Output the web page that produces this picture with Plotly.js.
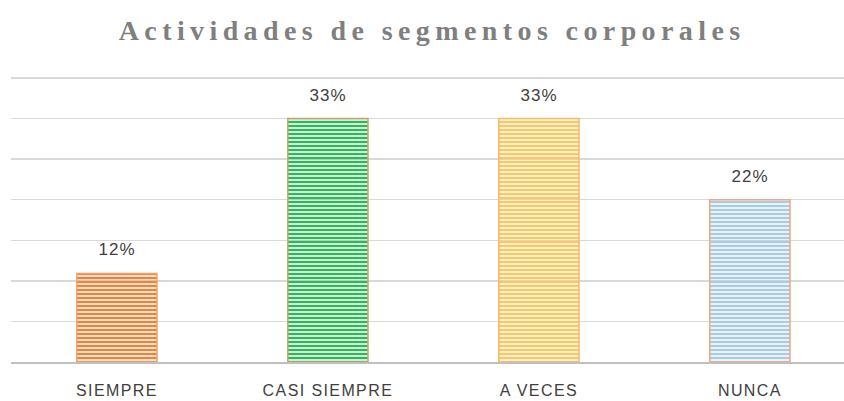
<!DOCTYPE html>
<html>
<head>
<meta charset="utf-8">
<script src="https://cdn.plot.ly/plotly-3.0.1.min.js"></script>
<style>
html,body{margin:0;padding:0;background:#fff;}
#chart{width:844px;height:401px;}
</style>
</head>
<body>
<div id="chart"></div>
<script>
const categories = ["SIEMPRE", "CASI SIEMPRE", "A VECES", "NUNCA"];
const values = [0.12, 0.33, 0.33, 0.22];
const labels = ["12%", "33%", "33%", "22%"];
const barColors = ["#F08236", "#2FB55A", "#FFC75A", "#A9CBEA"];
const stripeColors = ["#F9C29A", "#A8E5BC", "#FFE6B0", "#DCE9F6"];
const borderColors = ["#F2A06A", "#C9A56A", "#F7B868", "#F2A878"];

const trace = {
  type: "bar",
  x: categories,
  y: values,
  width: 0.38,
  marker: {
    color: barColors,
    line: {color: borderColors, width: 1.5},
    pattern: {shape: "-", fgcolor: barColors, bgcolor: stripeColors, size: 4, solidity: 0.62, fillmode: "replace"}
  },
  hoverinfo: "skip"
};

const annotations = categories.map((c, i) => ({
  x: c, y: values[i], text: labels[i], showarrow: false,
  yanchor: "bottom", yshift: 12,
  font: {family: "Liberation Sans, Arial, sans-serif", size: 17, color: "#404040"}
}));

const layout = {
  width: 844, height: 401,
  margin: {l: 11, r: 0, t: 76, b: 39},
  paper_bgcolor: "#fff", plot_bgcolor: "#fff",
  title: {
    text: "<b>Actividades de segmentos corporales</b>",
    x: 0.512, xanchor: "center", y: 0.925, yanchor: "middle",
    font: {family: "Liberation Serif, Times New Roman, serif", size: 28, color: "#7F7F7F"}
  },
  showlegend: false,
  bargap: 0.62,
  xaxis: {
    type: "category",
    range: [-0.502, 3.446],
    showline: true, linecolor: "#BFBFBF", linewidth: 2,
    showgrid: false, zeroline: false,
    ticks: "", ticklabelstandoff: 13,
    tickfont: {family: "Liberation Sans, Arial, sans-serif", size: 16, color: "#404040"}
  },
  yaxis: {
    range: [0, 0.3877], dtick: 0.055, tick0: 0,
    showticklabels: false, ticks: "",
    showgrid: true, gridcolor: "#D9D9D9", gridwidth: 1.5,
    zeroline: false, showline: false
  },
  annotations: annotations
};

Plotly.newPlot("chart", [trace], layout, {staticPlot: true, displayModeBar: false}).then(gd => {
  const t = gd.querySelector(".gtitle");
  if (t) t.style.letterSpacing = "5.4px";
  gd.querySelectorAll(".xtick text").forEach(e => { e.style.letterSpacing = "1.4px"; });
  gd.querySelectorAll(".annotation-text").forEach(e => { e.style.letterSpacing = "1px"; });
});
</script>
</body>
</html>
